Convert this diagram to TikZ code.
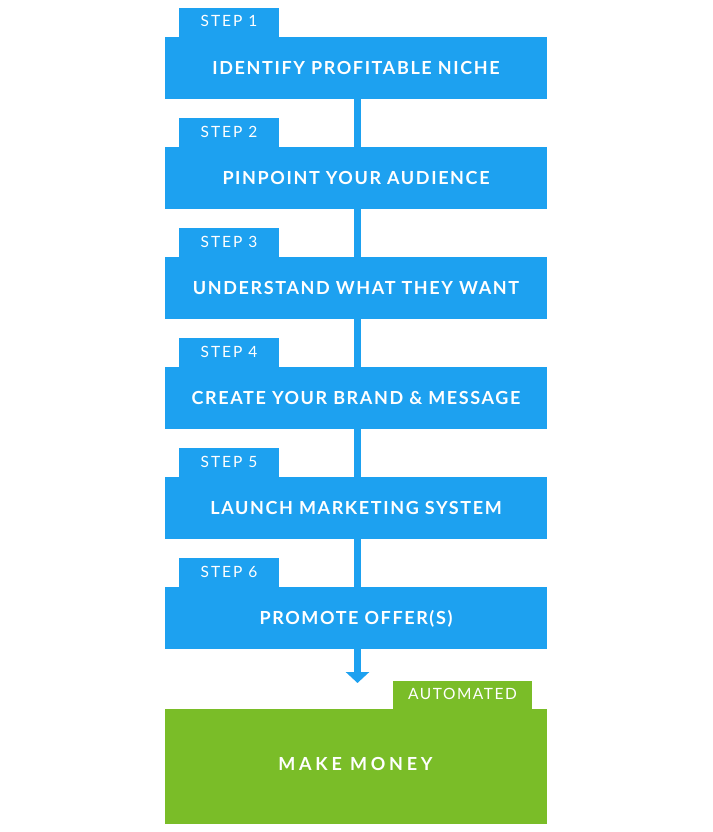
\documentclass[tikz,border=0pt]{standalone}
\usepackage{fontspec}
\usetikzlibrary{arrows.meta}
\newfontfamily\boldlab[LetterSpace=9]{Lato Bold}
\newfontfamily\moneylab[LetterSpace=21]{Lato Bold}
\newfontfamily\steplab[LetterSpace=13]{Lato}
\newfontfamily\autolab[LetterSpace=10]{Lato}
\definecolor{stepblue}{RGB}{29,161,240}
\definecolor{moneygreen}{RGB}{122,189,40}
\tikzset{
  x=1pt,y=-1pt,
  mainbox/.style={fill=stepblue,inner sep=0pt,minimum width=382pt,minimum height=62pt,text=white,text height=13pt,text depth=-3pt,font=\boldlab\fontsize{18}{20}\selectfont},
  tabbox/.style={fill=stepblue,inner sep=0pt,minimum width=100pt,minimum height=30pt,text=white,text height=11pt,text depth=3pt,font=\steplab\fontsize{15.5}{17}\selectfont},
  link/.style={draw=stepblue,line width=7pt},
}
\begin{document}
\begin{tikzpicture}
\useasboundingbox (0,0) rectangle (712,832);
\fill[white] (0,0) rectangle (712,832);
\foreach \i/\t in {1/IDENTIFY PROFITABLE NICHE,2/PINPOINT YOUR AUDIENCE,3/UNDERSTAND WHAT THEY WANT,4/CREATE YOUR BRAND \& MESSAGE,5/LAUNCH MARKETING SYSTEM,6/PROMOTE OFFER(S)}{
  \node[tabbox] (tab\i) at (229,{23+110*(\i-1)}) {STEP \i};
  \node[mainbox] (box\i) at (356,{68+110*(\i-1)}) {\t};
}
\foreach \i/\j in {1/2,2/3,3/4,4/5,5/6}{
  \draw[link] ([xshift=1.5pt]box\i.south) -- ([xshift=1.5pt]box\j.north);
}
\node[fill=moneygreen,inner sep=0pt,minimum width=139pt,minimum height=29pt,text=white,text height=11pt,text depth=2pt,font=\autolab\fontsize{15.5}{17}\selectfont] (auto) at (462.5,695) {AUTOMATED};
\node[fill=moneygreen,inner sep=0pt,minimum width=382pt,minimum height=115pt] (money) at (356,766.5) {};
\node[text=white,font=\moneylab\fontsize{18}{20}\selectfont,inner sep=0pt,text height=13pt,text depth=0pt] (moneytext) at (355.5,763.5) {MAKE MONEY};
\coordinate (arrowend) at (357.5,683);
\draw[link,-{Triangle[width=23pt,length=11pt]}] ([xshift=1.5pt]box6.south) -- (arrowend);
\end{tikzpicture}
\end{document}
